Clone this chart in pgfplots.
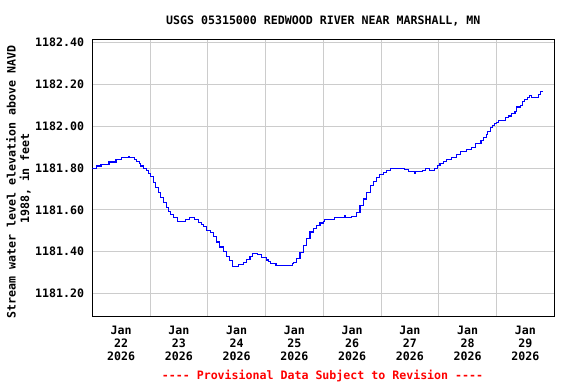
\documentclass[border=0pt]{standalone}
\usepackage{pgfplots}
\pgfplotsset{compat=1.18}
\usepackage{fontspec}
\setmainfont{DejaVu Sans Mono}[Ligatures=TeXOff]
\definecolor{gridgray}{RGB}{204,204,204}
\definecolor{lineblue}{RGB}{0,0,255}
\definecolor{provred}{RGB}{255,0,0}
\newcommand{\usgsfont}{\fontsize{11.6bp}{13bp}\selectfont\bfseries}
\pgfplotstableread{
d v
0.000 1181.800
0.077 1181.810
0.150 1181.819
0.290 1181.829
0.410 1181.840
0.510 1181.849
0.635 1181.857
0.645 1181.849
0.730 1181.840
0.770 1181.830
0.810 1181.820
0.840 1181.810
0.880 1181.800
0.940 1181.787
0.970 1181.775
1.010 1181.759
1.060 1181.732
1.100 1181.708
1.140 1181.684
1.180 1181.660
1.230 1181.637
1.280 1181.613
1.320 1181.594
1.360 1181.578
1.400 1181.562
1.470 1181.546
1.610 1181.552
1.680 1181.562
1.770 1181.552
1.840 1181.540
1.890 1181.530
1.920 1181.520
1.980 1181.502
2.040 1181.490
2.100 1181.473
2.150 1181.446
2.210 1181.422
2.270 1181.400
2.320 1181.376
2.380 1181.357
2.420 1181.345
2.430 1181.327
2.530 1181.337
2.615 1181.350
2.670 1181.363
2.730 1181.376
2.780 1181.392
2.857 1181.385
2.933 1181.373
3.020 1181.360
3.048 1181.352
3.089 1181.345
3.181 1181.335
3.470 1181.343
3.480 1181.350
3.539 1181.367
3.597 1181.395
3.654 1181.430
3.713 1181.462
3.770 1181.494
3.827 1181.510
3.886 1181.525
3.943 1181.537
4.000 1181.546
4.020 1181.554
4.190 1181.562
4.370 1181.572
4.382 1181.562
4.490 1181.570
4.578 1181.589
4.636 1181.620
4.693 1181.652
4.752 1181.684
4.810 1181.716
4.866 1181.737
4.925 1181.756
4.980 1181.768
5.040 1181.779
5.100 1181.790
5.160 1181.800
5.400 1181.792
5.480 1181.783
5.583 1181.775
5.593 1181.783
5.720 1181.790
5.770 1181.800
5.840 1181.790
5.930 1181.800
5.970 1181.811
6.020 1181.822
6.080 1181.830
6.140 1181.840
6.220 1181.850
6.310 1181.863
6.370 1181.879
6.480 1181.890
6.570 1181.900
6.640 1181.919
6.730 1181.930
6.770 1181.946
6.820 1181.960
6.840 1181.976
6.890 1181.992
6.930 1182.003
6.970 1182.013
7.000 1182.020
7.030 1182.028
7.160 1182.040
7.200 1182.049
7.260 1182.060
7.320 1182.070
7.350 1182.092
7.410 1182.100
7.450 1182.117
7.490 1182.127
7.530 1182.138
7.570 1182.149
7.610 1182.138
7.720 1182.152
7.760 1182.165
7.800 1182.165
}\stage
\begin{document}
\begin{tikzpicture}
\useasboundingbox (0,0) rectangle (576bp,-384bp);
\begin{axis}[
  at={(92.3bp,-316.3bp)}, anchor=south west,
  scale only axis, width=462bp, height=277bp,
  xmin=0, xmax=8, ymin=1181.0905, ymax=1182.4162,
  xtick={0.5,1.5,2.5,3.5,4.5,5.5,6.5,7.5},
  xticklabels={{Jan\\22\\2026},{Jan\\23\\2026},{Jan\\24\\2026},{Jan\\25\\2026},{Jan\\26\\2026},{Jan\\27\\2026},{Jan\\28\\2026},{Jan\\29\\2026}},
  minor xtick={1,2,3,4,5,6,7},
  xminorgrids=true, xmajorgrids=false, ymajorgrids=true,
  ytick={1181.2,1181.4,1181.6,1181.8,1182.0,1182.2,1182.4},
  yticklabels={1181.20,1181.40,1181.60,1181.80,1182.00,1182.20,1182.40},
  major tick length=0pt, minor tick length=0pt,
  tick style={draw=none},
  grid style={gridgray, line width=1bp},
  minor grid style={gridgray, line width=1bp},
  axis line style={black, line width=1.2bp},
  tick label style={font=\usgsfont, inner sep=0pt},
  xticklabel style={align=center, yshift=-9.5bp},
  yticklabel style={xshift=-8bp},
]
\addplot[lineblue, line width=1.1bp, const plot] table[x=d, y=v] {\stage};
\end{axis}
\node[font=\usgsfont, anchor=base] at (323.3bp,-24bp) {USGS 05315000 REDWOOD RIVER NEAR MARSHALL, MN};
\node[font=\usgsfont, anchor=base, rotate=90] at (15.5bp,-182bp) {Stream water level elevation above NAVD};
\node[font=\usgsfont, anchor=base, rotate=90] at (29bp,-178.5bp) {1988, in feet};
\node[font=\usgsfont, anchor=base, text=provred] at (322.5bp,-379bp) {---- Provisional Data Subject to Revision ----};
\end{tikzpicture}
\end{document}
